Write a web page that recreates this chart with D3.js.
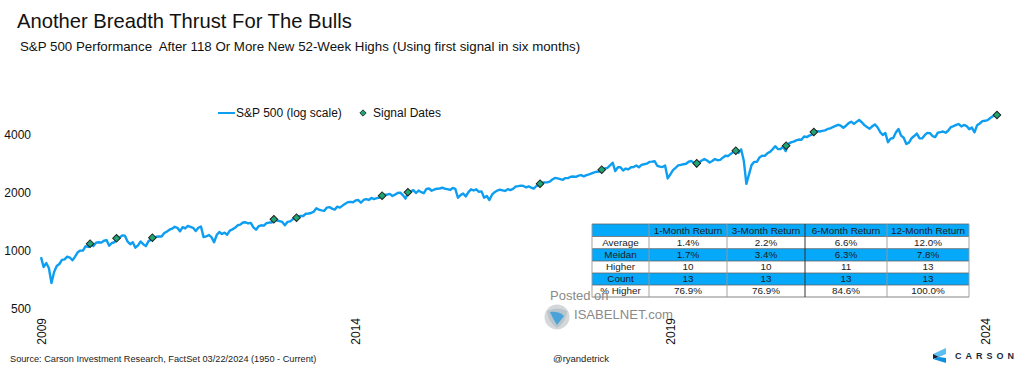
<!DOCTYPE html>
<html><head><meta charset="utf-8">
<script src="https://cdnjs.cloudflare.com/ajax/libs/d3/7.8.5/d3.min.js"></script>
<style>html,body{margin:0;padding:0;background:#fff}svg{display:block}text{font-family:"Liberation Sans",Arial,sans-serif;white-space:pre}</style>
</head><body><svg id="c" width="1024" height="370"></svg>
<script>
// S&P 500, two readings per month (1st and 16th)
const spx2009=[930,826,866,816,682,778,836,856,900,905,935,925,895,935,985,1005,1005,1060,1050,1090,1060,1105,1110,1105];
const spx2010=[1130,1140,1065,1100,1110,1150,1175,1205,1200,1120,1085,1110,1040,1070,1120,1085,1060,1125,1145,1175,1185,1190,1190,1240];
const spx2011=[1260,1290,1305,1335,1320,1265,1330,1310,1350,1335,1320,1270,1320,1340,1180,1190,1210,1180,1110,1210,1255,1225,1245,1215];
const spx2012=[1275,1295,1320,1360,1370,1405,1410,1390,1400,1325,1290,1345,1360,1355,1395,1405,1405,1465,1440,1430,1415,1360,1415,1425];
const spx2013=[1460,1490,1510,1520,1520,1560,1565,1575,1600,1665,1640,1625,1615,1680,1690,1660,1640,1700,1680,1720,1760,1790,1800,1790];
const spx2014=[1830,1840,1780,1840,1860,1840,1885,1860,1880,1890,1925,1960,1960,1980,1930,1960,2000,2010,1950,1870,2015,2040,2070,2000];
const spx2015=[2060,2020,1995,2100,2110,2055,2085,2105,2110,2130,2105,2095,2075,2125,2100,1890,1950,1990,1920,2020,2090,2060,2090,2030];
const spx2016=[2040,1890,1930,1840,1960,2020,2060,2080,2065,2050,2095,2070,2100,2160,2170,2185,2175,2140,2165,2130,2110,2180,2195,2260];
const spx2017=[2270,2270,2290,2350,2395,2380,2360,2340,2390,2390,2430,2435,2425,2460,2475,2440,2475,2500,2530,2560,2580,2585,2640,2680];
const spx2018=[2700,2780,2872,2600,2720,2720,2620,2680,2650,2720,2730,2780,2720,2800,2820,2840,2900,2910,2925,2770,2740,2730,2780,2380];
const spx2019=[2500,2630,2700,2780,2800,2820,2835,2905,2935,2860,2750,2890,2950,3000,2950,2880,2930,3000,2960,2970,3050,3120,3110,3190];
const spx2020=[3260,3320,3230,3370,2950,2230,2500,2800,2900,2900,3060,3120,3115,3215,3270,3370,3500,3385,3380,3480,3300,3600,3660,3700];
const spx2021=[3750,3790,3780,3930,3900,3970,4020,4180,4190,4170,4200,4230,4300,4330,4400,4460,4520,4470,4360,4470,4610,4690,4570,4680];
const spx2022=[4785,4660,4500,4400,4310,4440,4540,4390,4150,4000,4100,3670,3830,3860,4120,4300,3970,3870,3590,3650,3850,3950,4070,3850];
const spx2023=[3840,3990,4100,4090,3950,3900,4110,4140,4170,4110,4220,4400,4450,4510,4560,4430,4510,4450,4290,4370,4130,4500,4590,4720];
const spx2024=[4740,4780,4900,5000,5090,5150];
const spxYears=[2009,2010,2011,2012,2013,2014,2015,2016,2017,2018,2019,2020,2021,2022,2023,2024];
const spxByYear=[spx2009,spx2010,spx2011,spx2012,spx2013,spx2014,spx2015,spx2016,spx2017,spx2018,spx2019,spx2020,spx2021,spx2022,spx2023,spx2024];
const signalDates=[2009.78,2010.20,2010.77,2012.70,2013.06,2014.42,2014.83,2016.93,2017.91,2019.42,2020.04,2020.84,2021.28,2024.19];
const signalValues=[1091,1164,1172,1460,1489,1936,2018,2236,2642,2850,3317,3520,4147,5080];
const yTicks=[500,1000,2000,4000];
const xTicks=[2009,2014,2019,2024];
const tableHeader=["","1-Month Return","3-Month Return","6-Month Return","12-Month Return"];
const tableLabels=["Average","Meidan","Higher","Count","% Higher"];
const tableM1=["1.4%","1.7%","10","13","76.9%"];
const tableM3=["2.2%","3.4%","10","13","76.9%"];
const tableM6=["6.6%","6.3%","11","13","84.6%"];
const tableM12=["12.0%","7.8%","13","13","100.0%"];

const svg=d3.select("#c");
const BLUE="#0d9ef2", TBL="#06a8fa", GREEN="#1fa673";
const x=d3.scaleLinear().domain([2009,2024]).range([41,985]);
const y=d3.scaleLog().domain([500,4000]).range([309,135]);

const series=spxYears.flatMap((yr,k)=>spxByYear[k].map((v,i)=>({t:yr+i/24,v})));

// titles
svg.append("text").attr("x",17).attr("y",28).attr("font-size",20.2).attr("fill","#111").text("Another Breadth Thrust For The Bulls");
svg.append("text").attr("x",20).attr("y",51).attr("font-size",13.3).attr("fill","#111").text("S&P 500 Performance  After 118 Or More New 52-Week Highs (Using first signal in six months)");

// axes
const yAxis=svg.append("g").attr("transform","translate(33,0)").call(d3.axisLeft(y).tickValues(yTicks).tickFormat(d3.format("d")).tickSize(0).tickPadding(2));
yAxis.select(".domain").remove();
yAxis.selectAll("text").attr("font-size",12).attr("fill","#111").style("font-family",'"Liberation Sans"');
const xAxis=svg.append("g").attr("transform","translate(0,317)").call(d3.axisBottom(x).tickValues(xTicks).tickFormat(d3.format("d")).tickSize(0).tickPadding(0));
xAxis.select(".domain").remove();
xAxis.selectAll("text").attr("font-size",12).attr("fill","#111").style("font-family",'"Liberation Sans"')
  .attr("transform","rotate(-90)").attr("text-anchor","end").attr("x",-1).attr("y",0).attr("dy","0.35em");

// line + markers
const line=d3.line().x(d=>x(d.t)).y(d=>y(d.v));
svg.append("path").datum(series).attr("d",line).attr("fill","none").attr("stroke",BLUE).attr("stroke-width",2.4).attr("stroke-linejoin","round");
const diamond=d3.symbol().type(d3.symbolSquare).size(29);
svg.selectAll("path.sig").data(signalDates).join("path").attr("class","sig")
  .attr("transform",(d,i)=>`translate(${x(d)},${y(signalValues[i])}) rotate(45)`)
  .attr("d",diamond).attr("fill",GREEN).attr("stroke","#222").attr("stroke-width",1);

// legend
const lg=svg.append("g");
lg.append("line").attr("x1",218).attr("x2",235).attr("y1",113).attr("y2",113).attr("stroke",BLUE).attr("stroke-width",2);
lg.append("text").attr("x",236).attr("y",117).attr("font-size",12).attr("fill","#111").text("S&P 500 (log scale)");
lg.append("path").attr("transform","translate(363,113) rotate(45)").attr("d",d3.symbol().type(d3.symbolSquare).size(20)).attr("fill",GREEN).attr("stroke","#222").attr("stroke-width",0.8);
lg.append("text").attr("x",373).attr("y",117).attr("font-size",12).attr("fill","#111").text("Signal Dates");

// table
const colX=[592,649,727,805,887,969];
const rowY=[224,236.5,248.7,261,273,285,297];
const rows=[tableHeader].concat(tableLabels.map((l,i)=>[l,tableM1[i],tableM3[i],tableM6[i],tableM12[i]]));
const tb=svg.append("g");
rows.forEach((r,ri)=>{
  const fill=(ri%2===0&&ri<5)?TBL:"#fff";
  tb.append("rect").attr("x",colX[0]).attr("y",rowY[ri]).attr("width",colX[5]-colX[0]).attr("height",rowY[ri+1]-rowY[ri]).attr("fill",fill);
  r.forEach((c,ci)=>{
    tb.append("text").attr("x",(colX[ci]+colX[ci+1])/2).attr("y",(rowY[ri]+rowY[ri+1])/2+3.4).attr("text-anchor","middle").attr("font-size",9.9).attr("fill","#1a1a1a").text(c);
  });
});
rowY.forEach(v=>tb.append("line").attr("x1",colX[0]).attr("x2",colX[5]).attr("y1",v).attr("y2",v).attr("stroke","#666").attr("stroke-width",0.8));
colX.forEach((v,i)=>tb.append("line").attr("x1",v).attr("x2",v).attr("y1",rowY[0]).attr("y2",rowY[6]).attr("stroke",i===3?"#333":"#999").attr("stroke-width",i===3?1:0.9));

// watermark
svg.append("text").attr("x",550).attr("y",300).attr("font-size",13).attr("fill","#8a8a8a").text("Posted on");
svg.append("text").attr("x",574).attr("y",318.5).attr("font-size",13.1).attr("fill","#8a8a8a").text("ISABELNET.com");
const wm=svg.append("g").attr("transform","translate(557,317)");
wm.append("circle").attr("r",12.5).attr("fill","#d5d8da");
wm.append("path").attr("d","M-10,-6 Q0,-11 10,-6 Q9,5 0,11 Q-9,5 -10,-6Z").attr("fill","#b9c4cb");
wm.append("path").attr("d","M-7,-5 Q2,-6 7,-1 Q3,4 0,8 Q-4,2 -7,-5Z").attr("fill","#4aa3d8");

// footer
svg.append("text").attr("x",10).attr("y",362).attr("font-size",9.2).attr("fill","#222").text("Source: Carson Investment Research, FactSet 03/22/2024 (1950 - Current)");
svg.append("text").attr("x",553).attr("y",362).attr("font-size",9.5).attr("fill","#222").text("@ryandetrick");

// Carson mark
const cg=svg.append("g");
cg.append("path").attr("d","M946,348 L946,354 L939,357 L933,354 Z").attr("fill","#5bbdf0");
cg.append("path").attr("d","M933,354 L939,357 L933,359 Z").attr("fill","#10233a");
cg.append("path").attr("d","M933,359 L939,357 L946,358 L946,363 Z").attr("fill","#0d8fe0");
cg.append("text").attr("x",955).attr("y",359).attr("font-size",9).attr("font-weight","bold").attr("letter-spacing",4).attr("fill","#1b2a3d").text("CARSON");
</script></body></html>
